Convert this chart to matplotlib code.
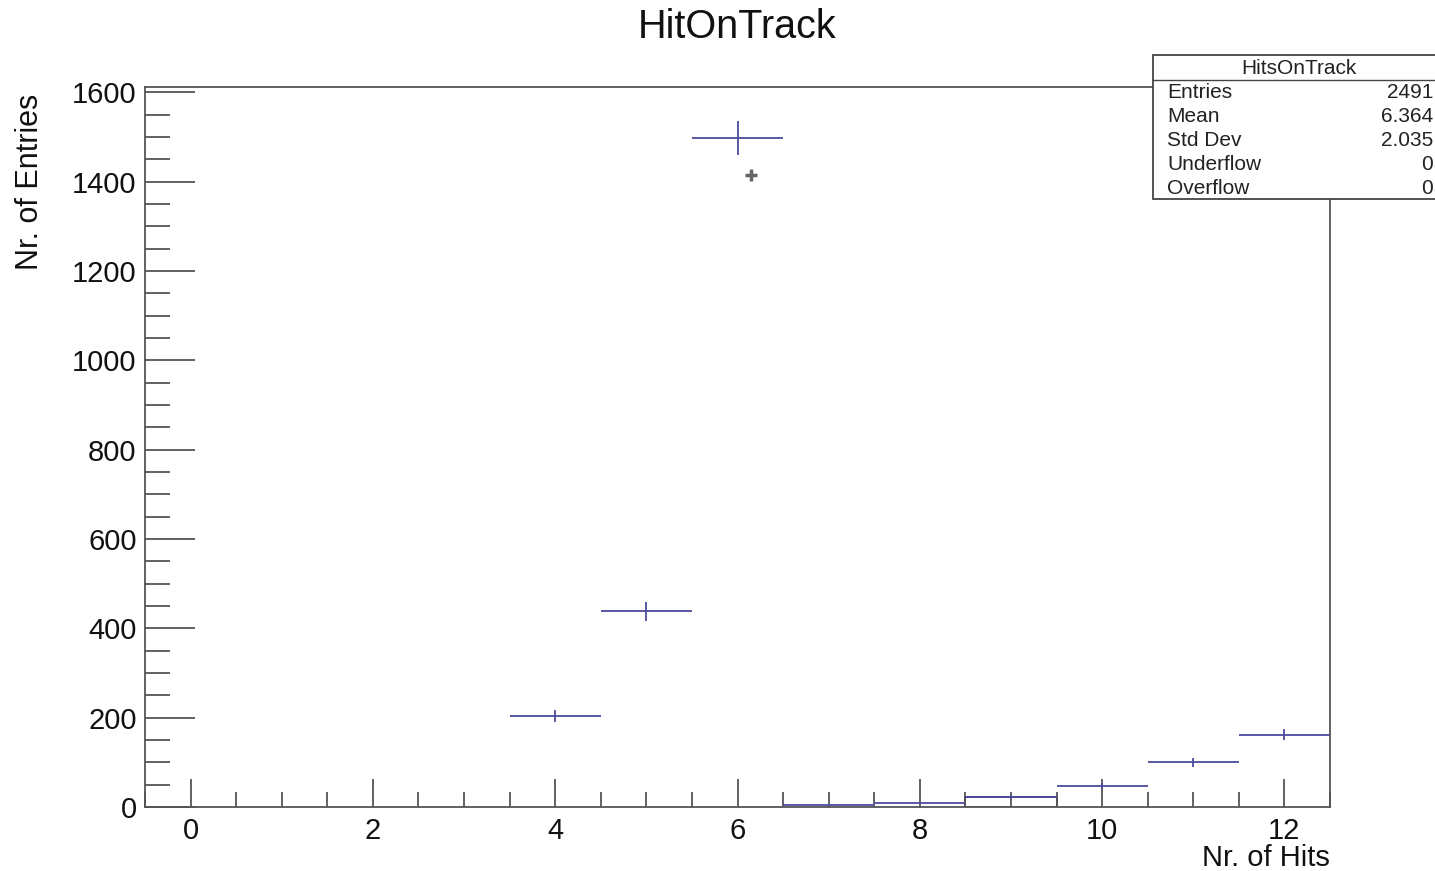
import numpy as np
import matplotlib
matplotlib.use("Agg")
from matplotlib import pyplot as plt
from matplotlib.patches import Rectangle
from matplotlib.lines import Line2D

plt.rcParams["font.family"] = ["Liberation Sans", "DejaVu Sans"]

# histogram contents (bin centres 0..12, width 1)
bin_centers = np.arange(0, 13)
counts = np.array([0, 0, 0, 0, 204, 438, 1498, 4, 9, 22, 47, 100, 162])
errors = np.sqrt(counts)

stat_labels = ["Entries", "Mean", "Std Dev", "Underflow", "Overflow"]
stat_values = ["2491", "6.364", "2.035", "0", "0"]

# stray marker seen near the peak
odd_x = [6.15]
odd_y = [1415]

W, H = 1435, 871
fig = plt.figure(figsize=(W / 100, H / 100), dpi=100)
ax = fig.add_axes([145 / W, 1 - 807 / H, (1330 - 145) / W, (807 - 87) / H])

axcol = "#555555"
blue = "#4b4b9e"

nz = counts > 0
ax.errorbar(bin_centers[nz], counts[nz], xerr=0.5, yerr=errors[nz],
            fmt="none", ecolor=blue, elinewidth=1.3, capsize=0)
# the one bin drawn with an outline box
ax.bar(bin_centers[9], counts[9], width=1, fill=False, edgecolor="#333333", linewidth=1.2)
ax.plot(odd_x, odd_y, marker="+", color="#666666", markersize=9, markeredgewidth=2.5, linestyle="none")

ax.set_xlim(-0.5, 12.5)
ax.set_ylim(0, 1612)
ax.set_xticks(np.arange(0, 13, 2))
ax.set_xticks(np.arange(-0.5, 12.6, 0.5), minor=True)
ax.set_yticks(np.arange(0, 1601, 200))
ax.set_yticks(np.arange(0, 1601, 50), minor=True)

for s in ax.spines.values():
    s.set_color(axcol)
    s.set_linewidth(1.3)
ax.tick_params(axis="both", which="both", direction="in", color=axcol, width=1.3,
               labelsize=21, colors="#111111")
ax.tick_params(axis="x", which="major", length=20, pad=7)
ax.tick_params(axis="x", which="minor", length=11)
ax.tick_params(axis="y", which="major", length=36, pad=6)
ax.tick_params(axis="y", which="minor", length=18)
for t in ax.get_xticklines() + ax.get_yticklines():
    t.set_color(axcol)

fig.text(737 / W, 1 - 27 / H, "HitOnTrack", ha="center", va="center", fontsize=28.5, color="#111111")
fig.text(30 / W, 1 - 94 / H, "Nr. of Entries", rotation=90, ha="center", va="top", fontsize=22, color="#111111")
fig.text(1330 / W, 1 - 858 / H, "Nr. of Hits", ha="right", va="center", fontsize=21, color="#111111")

# stats box
bx0, by0, bx1, by1 = 1153, 55, 1445, 199
fig.patches.append(Rectangle((bx0 / W, 1 - by1 / H), (bx1 - bx0) / W, (by1 - by0) / H,
                             transform=fig.transFigure, facecolor="white", edgecolor="#444444",
                             linewidth=1.3, zorder=5))
fig.lines.append(Line2D([bx0 / W, bx1 / W], [1 - 80 / H, 1 - 80 / H], transform=fig.transFigure,
                        color="#444444", linewidth=1.0, zorder=6))
fig.text(1299 / W, 1 - 68 / H, "HitsOnTrack", ha="center", va="center", fontsize=15, color="#222222", zorder=7)
for i, (lab, val) in enumerate(zip(stat_labels, stat_values)):
    yy = 1 - (92 + 24 * i) / H
    fig.text(1167 / W, yy, lab, ha="left", va="center", fontsize=15, color="#222222", zorder=7)
    fig.text(1433 / W, yy, val, ha="right", va="center", fontsize=15, color="#222222", zorder=7)

fig.savefig("out.png", dpi=100)
